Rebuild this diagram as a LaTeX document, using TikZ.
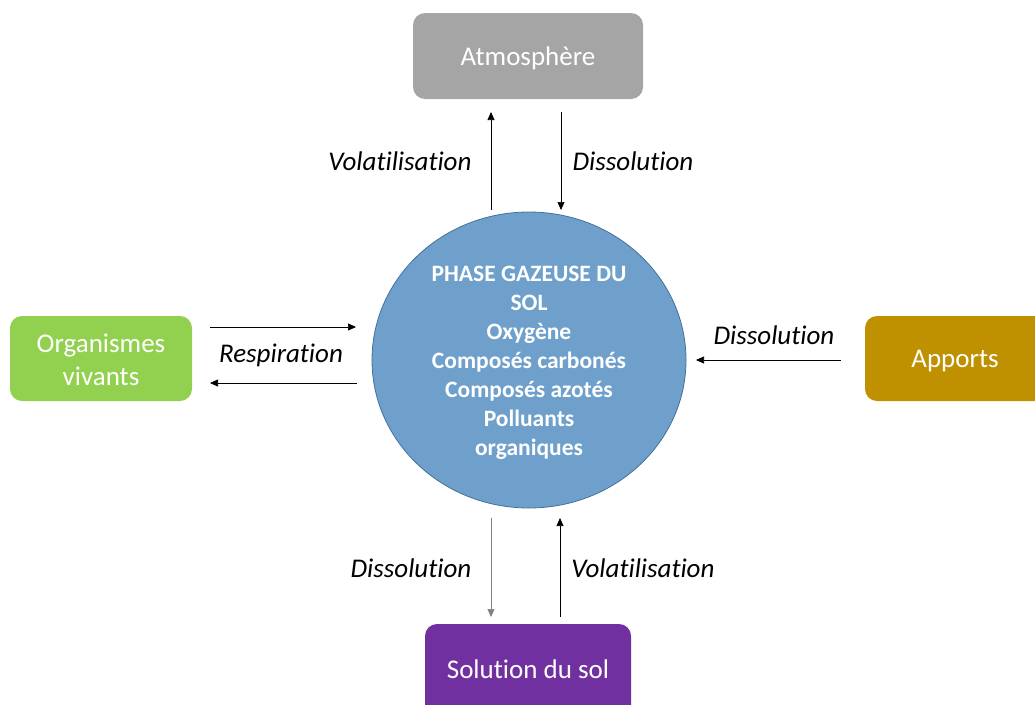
\documentclass[tikz,border=0pt]{standalone}
\usepackage{fontspec}
\setmainfont{Carlito}[Ligatures={NoCommon}]
\usetikzlibrary{arrows.meta,shapes.geometric}
\definecolor{cgray}{HTML}{A5A5A5}
\definecolor{cgreen}{HTML}{92D050}
\definecolor{cgold}{HTML}{BF9000}
\definecolor{cpurple}{HTML}{7030A0}
\definecolor{cblue}{RGB}{111,160,203}
\definecolor{cblueb}{RGB}{65,113,156}
\tikzset{
  box/.style={text=white, font=\fontsize{27}{33}\selectfont, align=center, inner sep=0pt},
  lbl/.style={font=\fontsize{27}{30}\selectfont\itshape, text=black, inner sep=0pt},
  arr/.style={-{Triangle[length=8pt,width=7pt]}, line width=0.7pt, black},
}
\begin{document}
\begin{tikzpicture}[x=1pt,y=-1pt]
\useasboundingbox (0,0) rectangle (1035,704);
\fill[cgray, rounded corners=12pt] (413,13) rectangle (643,99);
\node[box] (atm) at (528,58) {Atmosphère};
\fill[cgreen, rounded corners=12pt] (10,316) rectangle (192,401);
\node[box] (org) at (101,360) {Organismes\\vivants};
\begin{scope}
\clip (0,0) rectangle (1035,704);
\fill[cgold, rounded corners=12pt] (865,316) rectangle (1050,401);
\fill[cpurple, rounded corners=12pt] (425,624) rectangle (631,720);
\end{scope}
\node[box] (app) at (955,361) {Apports};
\node[box] (sol) at (528,669) {Solution du sol};
\node[ellipse, fill=cblue, draw=cblueb, line width=0.8pt, minimum width=314pt, minimum height=296pt, inner sep=0pt] (c) at (529,360) {};
\node[text=white, font=\fontsize{23.5}{29}\selectfont\bfseries, align=center] (ct) at (529,363)
  {PHASE GAZEUSE DU\\SOL\\Oxygène\\Composés carbonés\\Composés azotés\\Polluants\\organiques};
% coordinates
\coordinate (a1) at (491,210); \coordinate (a2) at (491,112);
\coordinate (b1) at (561,112); \coordinate (b2) at (561,210);
\coordinate (r1) at (210,327); \coordinate (r2) at (356,327);
\coordinate (r3) at (357,383); \coordinate (r4) at (210,383);
\coordinate (p1) at (841,360); \coordinate (p2) at (696,360);
\coordinate (d1) at (491,518); \coordinate (d2) at (491,617);
\coordinate (v1) at (560,617); \coordinate (v2) at (560,518);
\draw[arr] (a1) -- (a2);
\draw[arr] (b1) -- (b2);
\draw[arr] (r1) -- (r2);
\draw[arr] (r3) -- (r4);
\draw[arr] (p1) -- (p2);
\draw[arr, draw=gray] (d1) -- (d2);
\draw[arr] (v1) -- (v2);
\node[lbl] (l1) at (400,161) {Volatilisation};
\node[lbl] (l2) at (633,161) {Dissolution};
\node[lbl] (l3) at (281,355) {Respiration};
\node[lbl] (l4) at (774,335) {Dissolution};
\node[lbl] (l5) at (411,568) {Dissolution};
\node[lbl] (l6) at (643,568) {Volatilisation};
\end{tikzpicture}
\end{document}
